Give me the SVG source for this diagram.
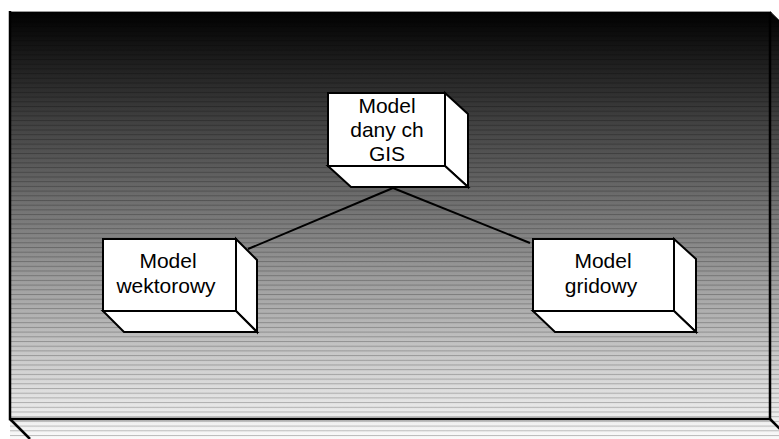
<svg xmlns="http://www.w3.org/2000/svg" width="779" height="439" viewBox="0 0 779 439">
  <defs>
    <!-- vertical shading of the backdrop panel: black at the top, near white at the bottom -->
    <linearGradient id="shade" gradientUnits="userSpaceOnUse" x1="0" y1="11" x2="0" y2="439">
      <stop offset="0" stop-color="#000000"/>
      <stop offset="1" stop-color="#fafafa"/>
    </linearGradient>
    <!-- thin horizontal banding lines -->
    <pattern id="bands" patternUnits="userSpaceOnUse" x="0" y="12" width="20" height="4.7">
      <rect x="0" y="0" width="20" height="1" fill="#000" fill-opacity="0.24"/>
    </pattern>
    <style>
      .face { fill: #ffffff; stroke: #000000; stroke-width: 2; stroke-linejoin: miter; }
      .label { font-family: "Liberation Sans", Arial, sans-serif; font-size: 21px; fill: #000000; text-anchor: middle; }
      .link { stroke: #000000; stroke-width: 2; fill: none; }
      .edge { stroke: #000000; stroke-width: 2.5; fill: none; }
    </style>
  </defs>

  <rect width="779" height="439" fill="#ffffff"/>

  <!-- backdrop panel (front face, right face, bottom face) -->
  <g id="backdrop">
    <polygon points="10,11 770,11 779,20 779,439 10,439" fill="url(#shade)"/>
    <polygon points="10,11 770,11 779,20 779,439 10,439" fill="url(#bands)"/>
    <line x1="10" y1="11.5" x2="770" y2="11.5" stroke="#9a9a9a" stroke-width="1"/>
    <line x1="770" y1="11.5" x2="779" y2="20" stroke="#555" stroke-width="1"/>
    <path class="edge" d="M10,11 V419 H770 V12"/>
    <line class="edge" x1="10" y1="419" x2="30" y2="439"/>
    <line class="edge" x1="770" y1="419" x2="780" y2="429"/>
  </g>

  <!-- connectors -->
  <g id="connectors">
    <line class="link" x1="393" y1="188" x2="248" y2="249"/>
    <line class="link" x1="393" y1="188" x2="530" y2="243"/>
  </g>

  <g id="node-gis">
    <polygon class="face" points="445,93 468,114 468,187 445,166"/>
    <polygon class="face" points="328,166 445,166 468,187 351,187"/>
    <rect class="face" x="328" y="93" width="117" height="73"/>
    <text class="label" x="387" y="113">Model</text>
    <text class="label" x="387" y="137">dany ch</text>
    <text class="label" x="387" y="161">GIS</text>
  </g>

  <g id="node-wektorowy">
    <polygon class="face" points="236,239 257,260 257,332 236,311"/>
    <polygon class="face" points="103,311 236,311 257,332 124,332"/>
    <rect class="face" x="103" y="239" width="133" height="72"/>
    <text class="label" x="168" y="268">Model</text>
    <text class="label" x="166" y="293">wektorowy</text>
  </g>

  <g id="node-gridowy">
    <polygon class="face" points="674,239 696,259 696,332 674,311"/>
    <polygon class="face" points="533,311 674,311 696,332 555,332"/>
    <rect class="face" x="533" y="239" width="141" height="72"/>
    <text class="label" x="603" y="268">Model</text>
    <text class="label" x="601" y="293">gridowy</text>
  </g>
</svg>
